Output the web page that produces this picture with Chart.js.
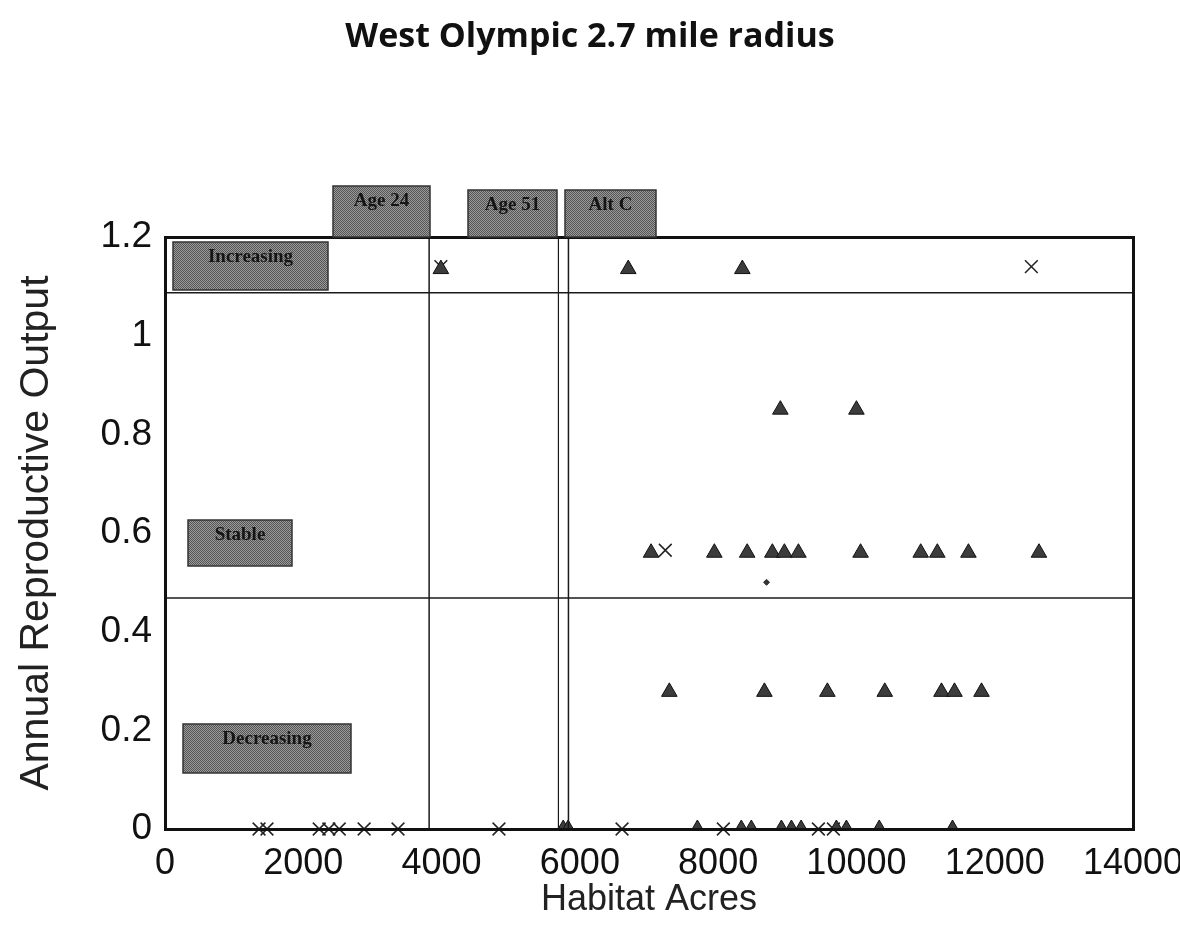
<!DOCTYPE html>
<html>
<head>
<meta charset="utf-8">
<script src="https://cdn.jsdelivr.net/npm/chart.js@4/dist/chart.umd.min.js"></script>
<style>
  html, body { margin: 0; padding: 0; background: #ffffff; }
  #wrap { width: 1180px; height: 925px; position: relative; }
  canvas { display: block; }
</style>
</head>
<body>
<div id="wrap"><canvas id="c" width="1180" height="925"></canvas></div>
<script>
// ---- Data ----
const chartTitle = "West Olympic 2.7 mile radius";
const xAxisTitle = "Habitat Acres";
const yAxisTitle = "Annual Reproductive Output";

const xTicks = [0, 2000, 4000, 6000, 8000, 10000, 12000, 14000];
const yTicks = [0, 0.2, 0.4, 0.6, 0.8, 1, 1.2];
const yTickLabels = ["0", "0.2", "0.4", "0.6", "0.8", "1", "1.2"];

// Triangle markers (above the x axis)
const triX = [3990, 6700, 8350,
              8900, 10000,
              7030, 7945, 8420, 8784, 8958, 9161, 10060, 10930, 11170, 11620, 12640,
              7294, 8669, 9580, 10410, 11230, 11418, 11809];
const triY = [1.135, 1.135, 1.135,
              0.85, 0.85,
              0.56, 0.56, 0.56, 0.56, 0.56, 0.56, 0.56, 0.56, 0.56, 0.56, 0.56,
              0.278, 0.278, 0.278, 0.278, 0.278, 0.278, 0.278];

// Triangle markers sitting on the x axis
const triZeroX = [5760, 5830, 7700, 8335, 8480, 8915, 9060, 9200, 9710, 9855, 10330, 11390];
const triZeroY = [0, 0, 0, 0, 0, 0, 0, 0, 0, 0, 0, 0];

// Cross (x) markers
const crossX = [3990, 12530, 7236,
                1360, 1475, 2230, 2370, 2520, 2880, 3370, 4830, 6610, 8075, 9450, 9667];
const crossY = [1.14, 1.14, 0.565,
                0, 0, 0, 0, 0, 0, 0, 0, 0, 0, 0, 0];

// Small dot marker
const dotX = [8700];
const dotY = [0.5];

// Reference lines
const hLineValues = [1.087, 0.468];
const vLineValues = [3820, 5690, 5835];

// Box labels
const boxLabels = ["Increasing", "Stable", "Decreasing", "Age 24", "Age 51", "Alt C"];

// ---- Build datasets ----
const pts = (xs, ys) => xs.map((x, i) => ({ x: x, y: ys[i] }));

const lineDatasets = [];
hLineValues.forEach(v => lineDatasets.push({
  type: 'line', data: [{ x: 0, y: v }, { x: 14000, y: v }],
  borderColor: '#1a1a1a', borderWidth: 1.5, pointRadius: 0, showLine: true, fill: false, clip: false
}));
vLineValues.forEach((v, i) => lineDatasets.push({
  type: 'line', data: [{ x: v, y: 0 }, { x: v, y: 1.2 }],
  borderColor: '#1a1a1a', borderWidth: i === 1 ? 1.2 : 1.5, pointRadius: 0, showLine: true, fill: false, clip: false
}));

// halftone pattern
function halftone() {
  const c = document.createElement('canvas');
  c.width = 2; c.height = 2;
  const g = c.getContext('2d');
  g.fillStyle = '#9a9a9a'; g.fillRect(0, 0, 2, 2);
  g.fillStyle = '#555555'; g.fillRect(0, 0, 1, 1); g.fillRect(1, 1, 1, 1);
  return c;
}

const boxRects = [
  [173, 242, 155, 48],
  [188, 520, 104, 46],
  [183, 724, 168, 49],
  [333, 186, 97, 51],
  [468, 190, 89, 47],
  [565, 190, 91, 47]
];

const decorPlugin = {
  id: 'decor',
  afterDatasetsDraw(chart) {
    const ctx = chart.ctx;
    const a = chart.chartArea;
    ctx.save();
    // frame
    ctx.strokeStyle = '#111';
    ctx.lineWidth = 3;
    ctx.strokeRect(a.left + 0.5, a.top + 0.5, a.right - a.left, a.bottom - a.top);
    // boxes
    const pat = ctx.createPattern(halftone(), 'repeat');
    boxRects.forEach((r, i) => {
      ctx.fillStyle = pat;
      ctx.fillRect(r[0], r[1], r[2], r[3]);
      ctx.strokeStyle = '#333';
      ctx.lineWidth = 1.5;
      ctx.strokeRect(r[0], r[1], r[2], r[3]);
      ctx.fillStyle = '#151515';
      ctx.font = 'bold 19px "Liberation Serif"';
      ctx.textAlign = 'center';
      ctx.textBaseline = 'middle';
      ctx.fillText(boxLabels[i], r[0] + r[2] / 2, r[1] + 15);
    });
    ctx.restore();
  },
  afterDraw(chart) {
    const ctx = chart.ctx;
    ctx.save();
    ctx.fillStyle = '#111';
    ctx.font = 'bold 34px "Open Sans"';
    ctx.textAlign = 'center';
    ctx.textBaseline = 'middle';
    ctx.fillText(chartTitle, 590, 37);
    ctx.restore();
  }
};

new Chart(document.getElementById('c'), {
  type: 'scatter',
  data: {
    datasets: [
      ...lineDatasets,
      {
        data: pts(triX, triY), pointStyle: 'triangle', pointRadius: 9, pointHoverRadius: 9,
        backgroundColor: '#3c3c3c', borderColor: '#111', borderWidth: 1, clip: false
      },
      {
        data: pts(triZeroX, triZeroY), pointStyle: 'triangle', pointRadius: 9, pointHoverRadius: 9,
        backgroundColor: '#3c3c3c', borderColor: '#111', borderWidth: 1,
        clip: { left: false, top: false, right: false, bottom: 2 }
      },
      {
        data: pts(crossX, crossY), pointStyle: 'crossRot', pointRadius: 9, pointHoverRadius: 9,
        borderColor: '#222', borderWidth: 1.5, clip: false
      },
      {
        data: pts(dotX, dotY), pointStyle: 'rectRot', pointRadius: 3, pointHoverRadius: 3,
        backgroundColor: '#333', borderColor: '#333', borderWidth: 1, clip: false
      }
    ]
  },
  options: {
    responsive: false,
    animation: false,
    devicePixelRatio: 1,
    layout: { padding: { top: 237, right: 47, left: 0, bottom: 0 } },
    plugins: { legend: { display: false }, tooltip: { enabled: false }, title: { display: false } },
    scales: {
      x: {
        type: 'linear', min: 0, max: 14000,
        grid: { display: false, drawTicks: false },
        border: { display: false },
        afterBuildTicks: s => { s.ticks = xTicks.map(v => ({ value: v })); },
        afterFit: s => { s.height = 96; s.paddingLeft = 0; s.paddingRight = 0; },
        ticks: {
          color: '#111', padding: 13, maxRotation: 0, autoSkip: false,
          font: { family: '"Liberation Sans", Arial, sans-serif', size: 36 },
          callback: v => String(v)
        },
        title: {
          display: true, text: xAxisTitle, color: '#222',
          font: { family: '"Liberation Sans", Arial, sans-serif', size: 36 },
          padding: { top: 0, bottom: 3 }
        }
      },
      y: {
        type: 'linear', min: 0, max: 1.2,
        grid: { display: false, drawTicks: false },
        border: { display: false },
        afterBuildTicks: s => { s.ticks = yTicks.map(v => ({ value: v })); },
        afterFit: s => { s.width = 165; s.paddingTop = 0; s.paddingBottom = 0; },
        ticks: {
          color: '#111', padding: 13, autoSkip: false,
          font: { family: '"Liberation Sans", Arial, sans-serif', size: 37 },
          callback: v => { const i = yTicks.indexOf(v); return i >= 0 ? yTickLabels[i] : ''; }
        },
        title: {
          display: true, text: yAxisTitle, color: '#222',
          font: { family: '"Liberation Sans", Arial, sans-serif', size: 41 },
          padding: { top: 12, bottom: 0 }
        }
      }
    }
  },
  plugins: [decorPlugin]
});
</script>
</body>
</html>
